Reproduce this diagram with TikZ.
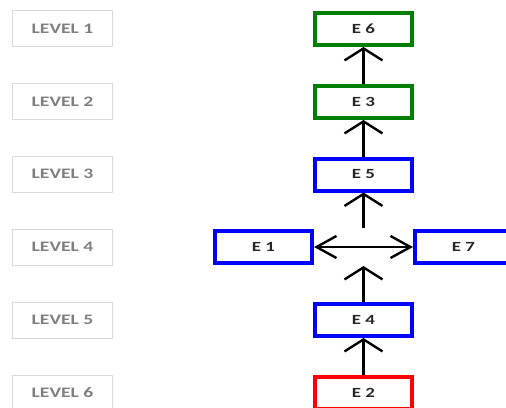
\documentclass[tikz,border=0pt]{standalone}
\usepackage{fontspec}
\setmainfont{Carlito}
\newfontfamily\widefont[FakeStretch=1.35]{Carlito}
\usetikzlibrary{arrows.meta}
\definecolor{lvltext}{HTML}{7F7F7F}
\definecolor{lvlline}{HTML}{D9D9D9}
\definecolor{eventgreen}{HTML}{008000}
\definecolor{eventblue}{HTML}{0000FF}
\definecolor{eventred}{HTML}{FF0000}
\tikzset{
  levelbox/.style={draw=lvlline, line width=1pt, minimum width=100pt, minimum height=36pt,
    inner sep=0pt, text=lvltext, font=\widefont\bfseries\fontsize{14.5}{16}\selectfont},
  eventbox/.style={draw=#1, line width=4pt, minimum width=97pt, minimum height=32pt,
    inner sep=0pt, text=black!85, font=\widefont\bfseries\fontsize{14}{16}\selectfont},
  uparrow/.style={line width=2.4pt, -{Straight Barb[length=12pt, width=38pt, line width=2.4pt]}},
  sidearrow/.style={line width=2.4pt, {Straight Barb[length=20pt, width=22pt, line width=2.4pt]}-{Straight Barb[length=20pt, width=22pt, line width=2.4pt]}}
}
\begin{document}
\begin{tikzpicture}[x=1pt, y=-1pt]
\useasboundingbox (0,0) rectangle (506,407);

% level labels on the left
\node[levelbox] (l1) at (62.5,28.5) {LEVEL 1};
\node[levelbox] (l2) at (62.5,101.5) {LEVEL 2};
\node[levelbox] (l3) at (62.5,174) {LEVEL 3};
\node[levelbox] (l4) at (62.5,247) {LEVEL 4};
\node[levelbox] (l5) at (62.5,320) {LEVEL 5};
\node[levelbox] (l6) at (62.5,393) {LEVEL 6};

% events
\node[eventbox=eventgreen] (e6) at (363.5,29) {E 6};
\node[eventbox=eventgreen] (e3) at (363.5,102) {E 3};
\node[eventbox=eventblue]  (e5) at (363.5,174.5) {E 5};
\node[eventbox=eventblue]  (e1) at (263.5,247) {E 1};
\node[eventbox=eventblue]  (e7) at (463.5,247) {E 7};
\node[eventbox=eventblue]  (e4) at (363.5,320) {E 4};
\node[eventbox=eventred]   (e2) at (363.5,392.5) {E 2};

\coordinate (mid1) at (363.5,228);
\coordinate (mid2) at (363.5,266);

% connectors
\draw[uparrow] (e3.north) -- (e6.south);
\draw[uparrow] (e5.north) -- (e3.south);
\draw[uparrow] (mid1) -- (e5.south);
\draw[sidearrow] (e1.east) -- (e7.west);
\draw[uparrow] (e4.north) -- (mid2);
\draw[uparrow] (e2.north) -- (e4.south);
\end{tikzpicture}
\end{document}
